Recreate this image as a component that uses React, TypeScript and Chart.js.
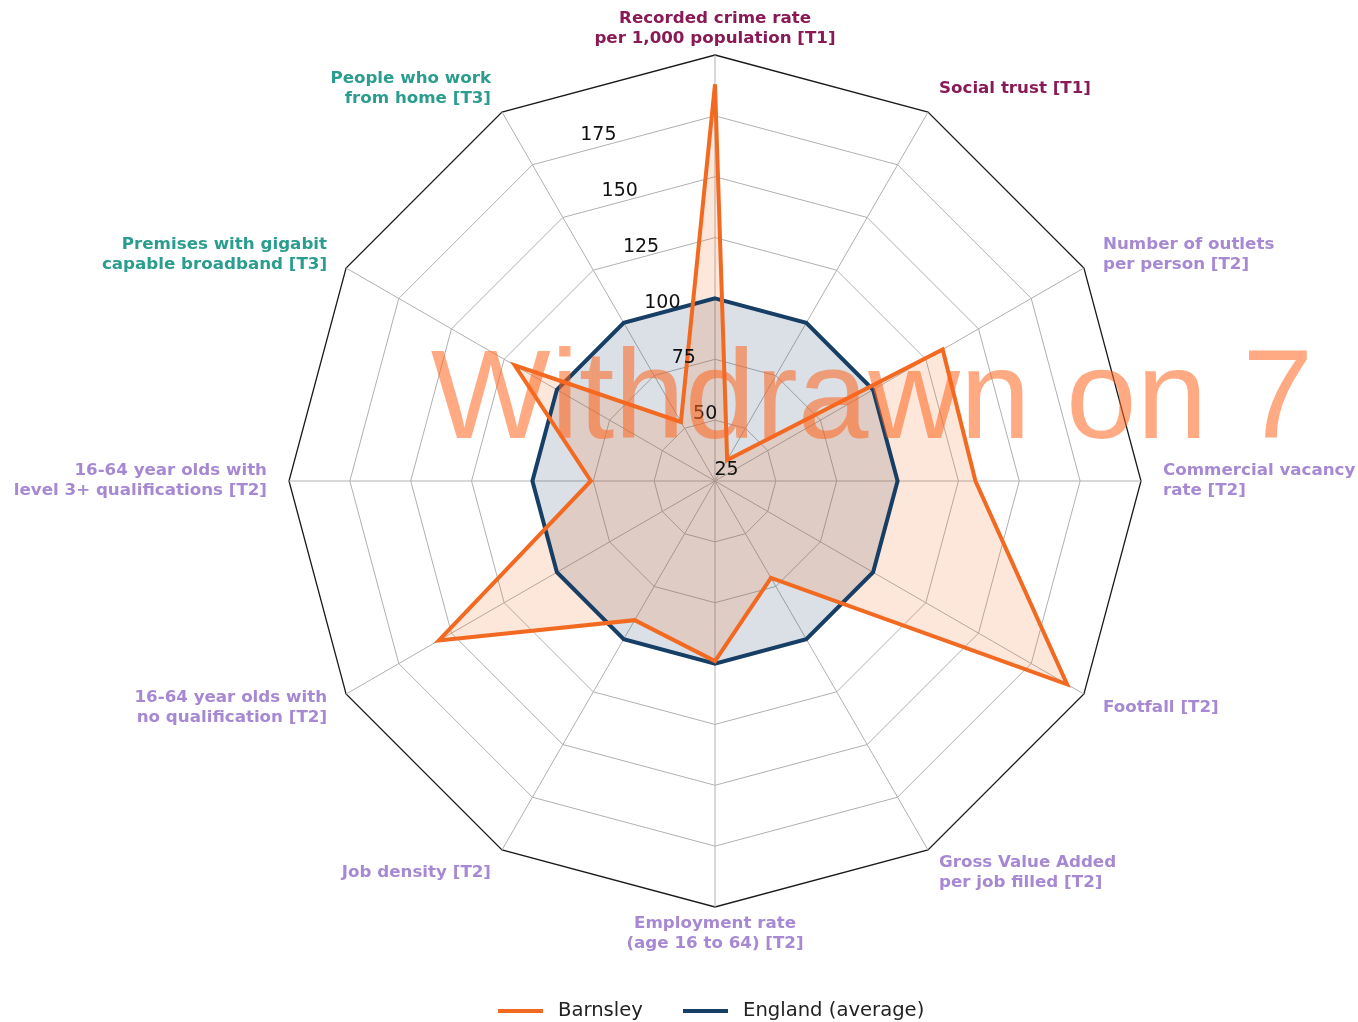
import React, { useEffect, useRef } from "react";
import { Chart, registerables } from "chart.js";

Chart.register(...registerables);

// ---- data ----
const categoryLines: string[][] = [
  ["Recorded crime rate", "per 1,000 population [T1]"],
  ["Social trust [T1]"],
  ["Number of outlets", "per person [T2]"],
  ["Commercial vacancy", "rate [T2]"],
  ["Footfall [T2]"],
  ["Gross Value Added", "per job filled [T2]"],
  ["Employment rate", "(age 16 to 64) [T2]"],
  ["Job density [T2]"],
  ["16-64 year olds with", "no qualification [T2]"],
  ["16-64 year olds with", "level 3+ qualifications [T2]"],
  ["Premises with gigabit", "capable broadband [T3]"],
  ["People who work", "from home [T3]"],
];
const categoryTiers = ["T1", "T1", "T2", "T2", "T2", "T2", "T2", "T2", "T2", "T2", "T3", "T3"];
const barnsleyValues = [188, 35, 133, 132, 192, 71, 99, 91, 156, 76, 120, 53];
const englandValues = [100, 100, 100, 100, 100, 100, 100, 100, 100, 100, 100, 100];
const tickLabels = [25, 50, 75, 100, 125, 150, 175];
const scaleMin = 25;
const scaleMax = 200;
const seriesNames = ["Barnsley", "England (average)"];
const watermarkText = "Withdrawn on 7";

// ---- styles ----
const ORANGE = "#F26A21";
const NAVY = "#173F66";
const TIER_COLORS: Record<string, string> = {
  T1: "#8A1A56",
  T2: "#A688D3",
  T3: "#2A9D8F",
};
const FONT = "'DejaVu Sans', sans-serif";

const overlayPlugin = {
  id: "overlayPlugin",
  afterDatasetsDraw(chart: any) {
    const ctx = chart.ctx as CanvasRenderingContext2D;
    const scale = chart.scales.r;
    const cx = scale.xCenter;
    const cy = scale.yCenter;
    const R = scale.drawingArea;

    // radial tick labels
    ctx.save();
    ctx.font = `19px ${FONT}`;
    ctx.fillStyle = "#111";
    ctx.textAlign = "center";
    ctx.textBaseline = "middle";
    tickLabels.forEach((v) => {
      const r = scale.getDistanceFromCenterForValue(v);
      const x = cx + 11.5 - 0.351 * r;
      const y = cy - 11 - 0.916 * r;
      ctx.fillText(String(v), x, y);
    });
    ctx.restore();

    // point (category) labels
    ctx.save();
    ctx.font = `bold 16.7px ${FONT}`;
    ctx.textBaseline = "middle";
    const lineH = 20;
    categoryLines.forEach((lines, i) => {
      const angle = (Math.PI * 2 * i) / categoryLines.length;
      const s = Math.sin(angle);
      const c = Math.cos(angle);
      const d = R + 22;
      const ax = cx + d * s;
      const ay = cy - d * c - 4.5 * c;
      ctx.textAlign = s > 0.01 ? "left" : s < -0.01 ? "right" : "center";
      ctx.fillStyle = TIER_COLORS[categoryTiers[i]];
      const n = lines.length;
      lines.forEach((t, k) => {
        ctx.fillText(t, ax, ay + (k - (n - 1) / 2) * lineH);
      });
    });
    ctx.restore();
  },
  afterDraw(chart: any) {
    const ctx = chart.ctx as CanvasRenderingContext2D;
    // legend
    ctx.save();
    const ly = 1011;
    const items = [
      { x: 498, color: ORANGE, label: seriesNames[0] },
      { x: 683, color: NAVY, label: seriesNames[1] },
    ];
    ctx.font = `19.6px ${FONT}`;
    ctx.textBaseline = "middle";
    ctx.textAlign = "left";
    items.forEach((it) => {
      ctx.strokeStyle = it.color;
      ctx.lineWidth = 4;
      ctx.beginPath();
      ctx.moveTo(it.x, ly);
      ctx.lineTo(it.x + 45, ly);
      ctx.stroke();
      ctx.fillStyle = "#222";
      ctx.fillText(it.label, it.x + 60, ly);
    });
    ctx.restore();

    // watermark
    ctx.save();
    ctx.font = `127px 'Liberation Sans', Arial, sans-serif`;
    ctx.fillStyle = "rgba(255, 100, 30, 0.55)";
    ctx.textAlign = "center";
    ctx.textBaseline = "alphabetic";
    ctx.fillText(watermarkText, 872, 438);
    ctx.restore();
  },
};

export default function App() {
  const canvasRef = useRef<HTMLCanvasElement | null>(null);

  useEffect(() => {
    document.body.style.margin = "0";
    const canvas = canvasRef.current;
    if (!canvas) return;
    const chart = new Chart(canvas, {
      type: "radar",
      data: {
        labels: categoryLines.map((l) => l.join(" ")),
        datasets: [
          {
            label: seriesNames[0],
            data: barnsleyValues,
            borderColor: ORANGE,
            backgroundColor: "rgba(242, 106, 33, 0.17)",
            borderWidth: 4,
            pointRadius: 0,
            pointHoverRadius: 0,
            fill: true,
            tension: 0,
          },
          {
            label: seriesNames[1],
            data: englandValues,
            borderColor: NAVY,
            backgroundColor: "rgba(23, 63, 102, 0.16)",
            borderWidth: 4,
            pointRadius: 0,
            pointHoverRadius: 0,
            fill: true,
            tension: 0,
          },
        ],
      },
      options: {
        responsive: false,
        animation: false,
        devicePixelRatio: 1,
        layout: {
          padding: { left: 289, right: 217, top: 55, bottom: 115 },
        },
        plugins: {
          legend: { display: false },
          tooltip: { enabled: false },
          filler: { drawTime: "beforeDatasetsDraw" },
        },
        scales: {
          r: {
            min: scaleMin,
            max: scaleMax,
            beginAtZero: false,
            ticks: { stepSize: 25, display: false },
            pointLabels: { display: false },
            grid: {
              color: (ctx: any) => (ctx.tick && ctx.tick.value === scaleMax ? "#1a1a1a" : "#b0b0b0"),
              lineWidth: (ctx: any) => (ctx.tick && ctx.tick.value === scaleMax ? 1.3 : 1),
            },
            angleLines: { color: "#b0b0b0", lineWidth: 1 },
          },
        },
      },
      plugins: [overlayPlugin],
    } as any);
    return () => chart.destroy();
  }, []);

  return (
    <div style={{ position: "absolute", left: 0, top: 0, width: 1358, height: 1022, background: "#fff" }}>
      <canvas ref={canvasRef} width={1358} height={1022} style={{ display: "block", width: 1358, height: 1022 }} />
    </div>
  );
}
